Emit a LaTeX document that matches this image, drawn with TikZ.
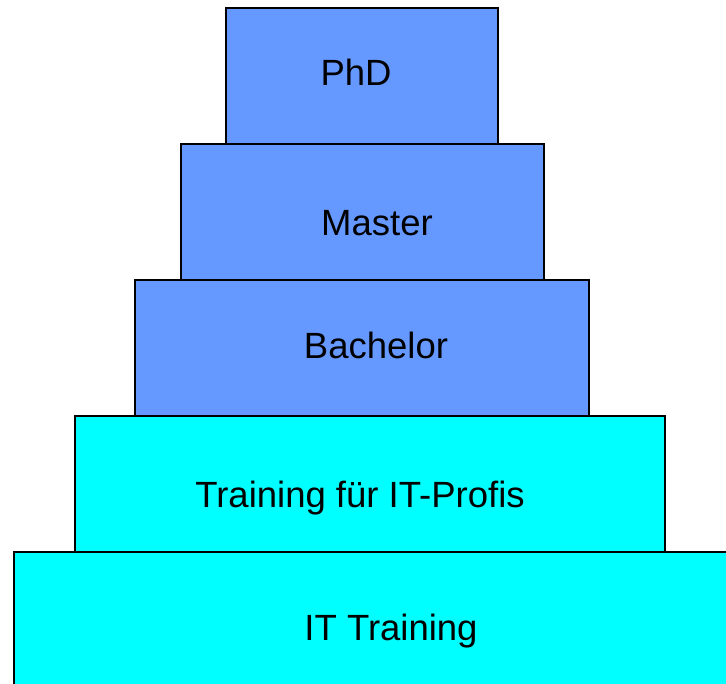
\documentclass[tikz,border=0pt]{standalone}
\usepackage{fontspec}
\setmainfont{Liberation Sans}
\definecolor{levelblue}{HTML}{6699FF}
\definecolor{levelcyan}{HTML}{00FFFF}
\tikzset{
  level/.style={draw=black, line width=1.5pt},
  label/.style={inner sep=0pt, font=\fontsize{36.5}{44}\selectfont}
}
\begin{document}
\begin{tikzpicture}[x=1pt,y=1pt]

  % page frame
  \useasboundingbox (0,0) rectangle (726,684);
  \clip (0,0) rectangle (726,684);

  % draw the levels, from the bottom up
  \draw[level, fill=levelcyan] (14,-5) rectangle (731,132);
  \draw[level, fill=levelcyan] (75,132) rectangle (665,268);
  \draw[level, fill=levelblue] (135,268) rectangle (589,404);
  \draw[level, fill=levelblue] (181,404) rectangle (544,540);
  \draw[level, fill=levelblue] (226,540) rectangle (498,676);

  % level labels
  \node[label] (it)       at (391,53)  {IT Training};
  \node[label] (profis)   at (360,186) {Training für IT-Profis};
  \node[label] (bachelor) at (376,339) {Bachelor};
  \node[label] (master)   at (377,461) {Master};
  \node[label] (phd)      at (356,612) {PhD};

\end{tikzpicture}
\end{document}
